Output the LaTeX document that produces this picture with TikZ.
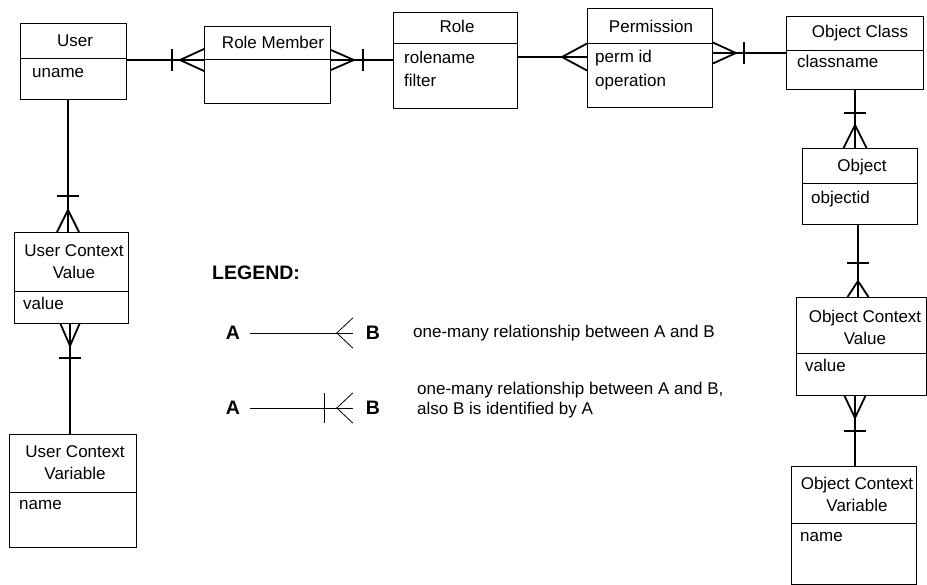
\documentclass[tikz,border=0pt]{standalone}
\usepackage{fontspec}
\setmainfont{Liberation Sans}
\usetikzlibrary{calc}

% crow's-foot geometry, adjustable per connector end
\newcommand\crowlen{23}
\newcommand\crowhalf{11}
\newcommand\barat{33}

\tikzset{
  entity/.style={draw, line width=0.9pt, inner sep=0pt, anchor=north west},
  divider/.style={line width=0.9pt},
  txt/.style={inner sep=0pt, font=\fontsize{17}{22}\selectfont},
  title/.style={txt, text height=12pt, text depth=3.5pt},
  title2/.style={txt, align=center},
  attr/.style={txt, anchor=west, text height=12pt, text depth=3.5pt},
  legbold/.style={inner sep=0pt, font=\fontsize{19.5}{22}\bfseries\selectfont},
  legtext/.style={inner sep=0pt, anchor=west, align=left, font=\fontsize{17}{20.5}\selectfont},
  rel/.style={line width=1.8pt},
  legline/.style={line width=0.8pt},
  crow len/.code={\renewcommand\crowlen{#1}},
  crow half/.code={\renewcommand\crowhalf{#1}},
  bar at/.code={\renewcommand\barat{#1}},
  crow/.pic={\draw[rel] (0,-\crowhalf) -- (-\crowlen,0) -- (0,\crowhalf);},
  bar/.pic={\draw[rel] (-\barat,-11) -- (-\barat,11);},
  legcrow/.pic={\draw[legline] (0,-15) -- (-16,0) -- (0,15);},
  legbar/.pic={\draw[legline] (-28,-15) -- (-28,15);},
}

% entity box: name, left, top, right, bottom, divider height
\newcommand\erentity[6]{%
  \node[entity, minimum width={(#4-#2)*1pt}, minimum height={(#5-#3)*1pt}] (#1) at (#2,#3) {};
  \draw[divider] (#2,#6) -- (#4,#6);
}

\begin{document}
\begin{tikzpicture}[x=1pt, y=-1pt]
\useasboundingbox[fill=white] (0,0) rectangle (927,585);

% ---- entities ----
\erentity{user}{20}{23}{126}{99}{58}
\erentity{rm}{204}{26}{330}{103}{59}
\erentity{role}{393}{12}{517}{108}{43}
\erentity{perm}{587}{8}{712}{107}{43}
\erentity{ocls}{786}{16}{923}{89}{50}
\erentity{obj}{802}{148}{917}{224}{183}
\erentity{ocv}{796}{297}{926}{395}{353}
\erentity{ocvar}{791}{466}{916}{584}{523}
\erentity{ucv}{14}{232}{128}{323}{291}
\erentity{ucvar}{9}{434}{136}{547}{492}

% ---- titles ----
\node[title] (user-t) at (75,42) {User};
\node[title] (rm-t) at (273,44) {Role Member};
\node[title] (role-t) at (457,28) {Role};
\node[title] (perm-t) at (651,28) {Permission};
\node[title] (ocls-t) at (860,33) {Object Class};
\node[title] (obj-t) at (862,167) {Object};
\node[title2] (ocv-t) at (865,327) {Object Context\\Value};
\node[title2] (ocvar-t) at (857,494) {Object Context\\Variable};
\node[title2] (ucv-t) at (74,262) {User Context\\Value};
\node[title2] (ucvar-t) at (75,463) {User Context\\Variable};

% ---- attributes ----
\node[attr] (user-a) at (32,73) {uname};
\node[attr] (role-a1) at (404,59) {rolename};
\node[attr] (role-a2) at (404,82) {filter};
\node[attr] (perm-a1) at (595,58) {perm id};
\node[attr] (perm-a2) at (595,82) {operation};
\node[attr] (ocls-a) at (797,63) {classname};
\node[attr] (obj-a) at (811,199) {objectid};
\node[attr] (ocv-a) at (805,367) {value};
\node[attr] (ocvar-a) at (800,537) {name};
\node[attr] (ucv-a) at (23,305) {value};
\node[attr] (ucvar-a) at (19,505) {name};

% ---- relationships ----
\draw[rel] (user.east |- 0,60) -- (rm.west |- 0,60)
  pic[crow len=24]{crow} pic[bar at=32]{bar};
\draw[rel] (role.west |- 0,60) -- (rm.east |- 0,60)
  pic[rotate=180, crow half=10]{crow} pic[rotate=180, bar at=32]{bar};
\draw[rel] (role.east |- 0,57) -- (perm.west |- 0,57)
  pic[crow len=25, crow half=13.5]{crow};
\draw[rel] (ocls.west |- 0,53) -- (perm.east |- 0,53)
  pic[rotate=180, crow half=10.5]{crow} pic[rotate=180, bar at=31]{bar};
\draw[rel] (ocls.south -| 855,0) -- (obj.north -| 855,0)
  pic[rotate=-90, crow half=11.5]{crow} pic[rotate=-90, bar at=35]{bar};
\draw[rel] (obj.south -| 858,0) -- (ocv.north -| 858,0)
  pic[rotate=-90, crow len=16, crow half=10.5]{crow} pic[rotate=-90, bar at=34]{bar};
\draw[rel] (ocvar.north -| 855,0) -- (ocv.south -| 855,0)
  pic[rotate=90, crow len=22, crow half=10.5]{crow} pic[rotate=90, bar at=35]{bar};
\draw[rel] (user.south -| 68,0) -- (ucv.north -| 68,0)
  pic[rotate=-90, crow len=22]{crow} pic[rotate=-90, bar at=36]{bar};
\draw[rel] (ucvar.north -| 70,0) -- (ucv.south -| 70,0)
  pic[rotate=90, crow len=22, crow half=9.5]{crow} pic[rotate=90, bar at=34]{bar};

% ---- legend ----
\node[legbold, anchor=west] (legend) at (212,273) {LEGEND:};

\node[legbold] (la1) at (233,333) {A};
\node[legbold] (lb1) at (373,333) {B};
\draw[legline] ($(la1.east)+(10,0)$) -- ($(lb1.west)+(-13,0)$) pic{legcrow};
\node[legtext] (lt1) at (413,333) {one-many relationship between A and B};

\node[legbold] (la2) at (233,408) {A};
\node[legbold] (lb2) at (373,408) {B};
\draw[legline] ($(la2.east)+(10,0)$) -- ($(lb2.west)+(-13,0)$) pic{legcrow} pic{legbar};
\node[legtext] (lt2) at (417,400) {one-many relationship between A and B,\\also B is identified by A};
\end{tikzpicture}
\end{document}
